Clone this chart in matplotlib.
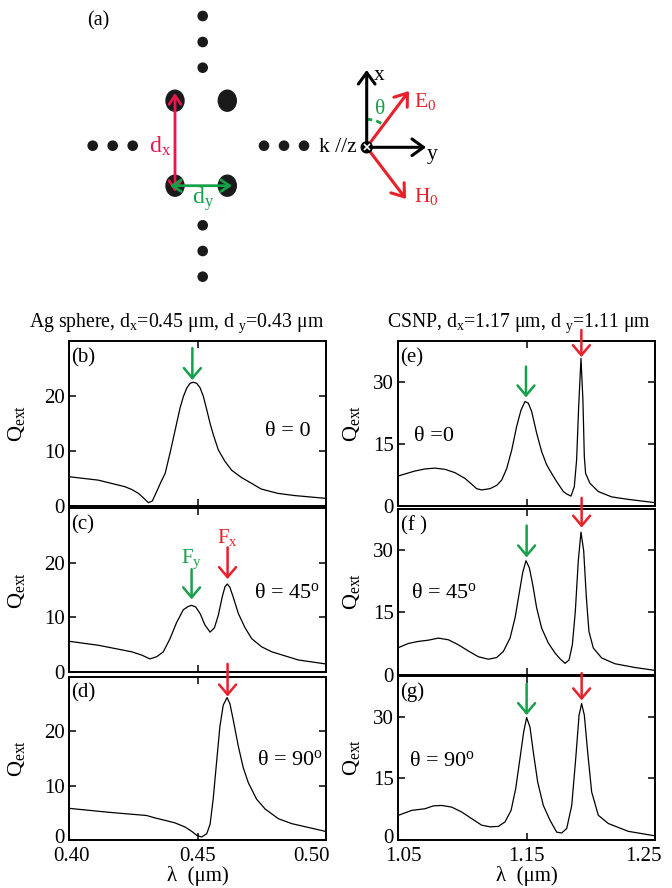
import matplotlib
matplotlib.use("Agg")
import matplotlib.pyplot as plt
from matplotlib.patches import Circle, Ellipse, Arc
from matplotlib.transforms import ScaledTranslation

plt.rcParams['font.family'] = ['Liberation Serif', 'DejaVu Serif']
plt.rcParams['mathtext.fontset'] = 'custom'
plt.rcParams['mathtext.rm'] = 'Liberation Serif'
plt.rcParams['mathtext.it'] = 'Liberation Serif:italic'

GREEN = '#15a04a'
RED = '#e8202a'

# ---- data ----
lam_b = [0.4004, 0.4114, 0.4218, 0.4244, 0.4270, 0.4289, 0.4309, 0.4324, 0.4341, 0.4358,
         0.4374, 0.4393, 0.4413, 0.4432, 0.4445, 0.4458, 0.4471, 0.4484, 0.4497, 0.4510,
         0.4523, 0.4536, 0.4549, 0.4562, 0.4581, 0.4607, 0.4633, 0.4672, 0.4711, 0.4747,
         0.4812, 0.4877, 0.4996]
q_b = [5.3, 4.7, 3.5, 3.0, 2.3, 1.5, 0.6, 0.9, 2.6, 4.4,
       5.9, 9.6, 13.8, 17.8, 19.9, 21.4, 22.3, 22.5, 22.3, 21.5,
       19.9, 17.5, 15.0, 12.9, 10.2, 8.1, 6.5, 5.15, 4.1, 3.1,
       2.3, 1.9, 1.4]

lam_c = [0.4004, 0.4114, 0.4244, 0.4283, 0.4315, 0.4341, 0.4367, 0.4393, 0.4419, 0.4445,
         0.4464, 0.4477, 0.4493, 0.4510, 0.4529, 0.4549, 0.4566, 0.4581, 0.4597, 0.4607,
         0.4616, 0.4626, 0.4639, 0.4659, 0.4685, 0.4711, 0.4750, 0.4789, 0.4893, 0.4996]
q_c = [5.6, 4.9, 3.7, 3.1, 2.4, 2.8, 3.7, 6.1, 9.1, 11.4,
       12.0, 12.2, 11.9, 10.7, 8.6, 7.3, 8.1, 10.4, 13.9, 15.6,
       16.1, 15.5, 13.7, 10.7, 8.1, 6.1, 4.6, 3.7, 2.2, 1.5]

lam_d = [0.4004, 0.4153, 0.4302, 0.4335, 0.4374, 0.4412, 0.4451, 0.4477, 0.4497, 0.4516,
         0.4536, 0.4549, 0.4561, 0.4574, 0.4587, 0.4600, 0.4615, 0.4626, 0.4639, 0.4659,
         0.4678, 0.4698, 0.4730, 0.4763, 0.4815, 0.4867, 0.4996]
q_d = [5.8, 5.1, 4.5, 4.05, 3.6, 3.15, 2.4, 1.6, 0.85, 0.55,
       1.15, 2.9, 7.5, 14.2, 20.8, 24.8, 26.2, 25.1, 22.1, 17.2,
       13.3, 10.5, 7.5, 5.7, 3.9, 3.0, 1.6]

lam_e = [1.0503, 1.0567, 1.0632, 1.0710, 1.0788, 1.0866, 1.0943, 1.1021, 1.1073, 1.1112,
         1.1151, 1.1216, 1.1268, 1.1307, 1.1346, 1.1385, 1.1423, 1.1457, 1.1488, 1.1514,
         1.1540, 1.1579, 1.1618, 1.1657, 1.1696, 1.1735, 1.1761, 1.1787, 1.1813, 1.1846,
         1.1872, 1.1890, 1.1906, 1.1924, 1.1939, 1.1950, 1.1960, 1.1994, 1.2059, 1.2163,
         1.2292, 1.2500]
q_e = [7.2, 7.8, 8.4, 8.9, 9.1, 8.8, 8.0, 6.6, 5.2, 4.1,
       3.8, 4.1, 4.9, 6.2, 9.0, 13.5, 19.2, 23.2, 25.3, 24.9,
       22.9, 17.6, 13.1, 9.9, 7.8, 5.8, 4.6, 3.4, 2.8, 2.3,
       4.6, 11.1, 24.1, 35.8, 25.7, 11.9, 7.8, 5.4, 3.4, 2.1,
       1.5, 0.7]

lam_f = [1.0503, 1.0580, 1.0658, 1.0736, 1.0814, 1.0892, 1.0969, 1.1047, 1.1125, 1.1203,
         1.1268, 1.1320, 1.1372, 1.1411, 1.1442, 1.1470, 1.1496, 1.1522, 1.1548, 1.1579,
         1.1618, 1.1670, 1.1722, 1.1761, 1.1800, 1.1831, 1.1857, 1.1880, 1.1903, 1.1924,
         1.1945, 1.1966, 1.1986, 1.2020, 1.2085, 1.2189, 1.2344, 1.2500]
q_f = [6.5, 7.5, 8.0, 8.3, 8.8, 8.4, 7.2, 5.7, 4.3, 3.7,
       4.1, 5.6, 8.8, 13.7, 19.4, 24.6, 27.5, 25.8, 21.8, 16.1,
       11.2, 7.6, 5.2, 3.8, 2.7, 3.5, 7.2, 15.3, 27.5, 34.4,
       29.9, 18.5, 10.4, 6.4, 4.0, 2.6, 1.7, 1.0]

lam_g = [1.0503, 1.0606, 1.0710, 1.0775, 1.0840, 1.0918, 1.0996, 1.1073, 1.1151, 1.1216,
         1.1281, 1.1333, 1.1380, 1.1416, 1.1449, 1.1478, 1.1501, 1.1527, 1.1553, 1.1587,
         1.1631, 1.1683, 1.1735, 1.1774, 1.1813, 1.1852, 1.1883, 1.1909, 1.1929, 1.1950,
         1.1976, 1.2007, 1.2059, 1.2137, 1.2292, 1.2500]
q_g = [6.0, 7.2, 7.6, 8.3, 8.4, 8.0, 6.8, 5.2, 3.6, 3.2,
       3.3, 4.4, 7.2, 12.5, 19.8, 26.3, 29.8, 27.5, 21.4, 14.1,
       8.4, 4.8, 1.9, 1.7, 2.8, 8.4, 19.8, 30.4, 33.2, 30.4,
       21.4, 11.7, 6.0, 4.0, 2.1, 1.0]

# arrows: (lambda, tail Q, tip Q, colour)
arr_b = [(0.448, 28.7, 22.9, GREEN)]
arr_c = [(0.4477, 18.8, 13.3, GREEN), (0.4617, 22.8, 17.0, RED)]
arr_d = [(0.4617, 32.4, 26.4, RED)]
arr_e = [(1.1496, 33.8, 26.3, GREEN), (1.1927, 42.7, 36.1, RED)]
arr_f = [(1.1501, 36.0, 28.3, GREEN), (1.1929, 42.7, 35.5, RED)]
arr_g = [(1.1501, 38.0, 30.4, GREEN), (1.1929, 40.6, 34.0, RED)]

fig = plt.figure(figsize=(6.72, 8.88), dpi=100)

# ---- (a) sketch, drawn in pixel coordinates ----
dg = fig.add_axes([0, 0, 1, 1])
dg.set_xlim(0, 672)
dg.set_ylim(888, 0)
dg.axis('off')

for (x, y) in [(202.7, 16), (202.7, 42), (202.7, 67.7), (202.7, 225.3), (202.7, 251), (202.7, 276.7),
               (92.7, 145.7), (112.7, 145.7), (132.7, 145.7), (264, 145.7), (284, 145.7), (304, 145.7)]:
    dg.add_patch(Circle((x, y), 4.6, color='#1a1a1a'))
for (x, y) in [(175, 100.7), (227.3, 100.7), (175, 185.7), (227.3, 185.7)]:
    dg.add_patch(Ellipse((x, y), 18, 21, color='#1a1a1a'))

dbl = dict(arrowstyle='<->,head_length=0.45,head_width=0.3', lw=2, mutation_scale=14, shrinkA=0, shrinkB=0)
dg.annotate('', xy=(175, 93), xytext=(175, 192), arrowprops=dict(color='#e8174a', **dbl))
dg.annotate('', xy=(170, 185.7), xytext=(232, 185.7), arrowprops=dict(color=GREEN, **dbl))
dg.text(160, 146, 'd$_\\mathrm{x}$', color='#e8174a', fontsize=17, ha='center', va='center')
dg.text(203, 199, 'd$_\\mathrm{y}$', color=GREEN, fontsize=17, ha='center', va='center')
dg.text(87, 21, '(a)', fontsize=14.5, ha='left', va='center')

ox, oy = 366.7, 147.3
ax_arrow = dict(arrowstyle='->,head_length=0.55,head_width=0.4', lw=2.2, mutation_scale=15, shrinkA=0, shrinkB=0)
dg.annotate('', xy=(ox, 70), xytext=(ox, oy), arrowprops=dict(color='k', **ax_arrow))
dg.annotate('', xy=(426, oy), xytext=(ox, oy), arrowprops=dict(color='k', **ax_arrow))
dg.annotate('', xy=(409, 91), xytext=(ox, oy), arrowprops=dict(color=RED, **ax_arrow))
dg.annotate('', xy=(406, 199), xytext=(ox, oy), arrowprops=dict(color=RED, **ax_arrow))
dg.add_patch(Arc((ox, oy), 56, 56, theta1=270, theta2=307, color=GREEN, lw=2, ls=(0, (2, 1.5))))
dg.add_patch(Circle((ox, oy), 5.5, color='k', zorder=5))
dg.plot([ox], [oy], marker='x', color='white', ms=5, mew=1.2, zorder=6)
dg.text(374, 76, 'x', fontsize=15.5, ha='left', va='center')
dg.text(427, 155, 'y', fontsize=15.5, ha='left', va='center')
dg.text(357, 148, 'k //z', fontsize=15.5, ha='right', va='center')
dg.text(414, 101, 'E$_0$', color=RED, fontsize=15.5, ha='left', va='center')
dg.text(414, 196, 'H$_0$', color=RED, fontsize=15.5, ha='left', va='center')
dg.text(380, 110, 'θ', color=GREEN, fontsize=15.5, ha='center', va='center')

# ---- spectra panels ----
W = 257 / 672
panels = [
    ([69 / 672, 0.4302, W, 0.1858], lam_b, q_b, arr_b, '(b)', 'θ = 0', (0.85, 0.45), 'L'),
    ([69 / 672, 0.2432, W, 0.1847], lam_c, q_c, arr_c, '(c)', 'θ = 45$^\\mathrm{o}$', (0.85, 0.48), 'L'),
    ([69 / 672, 0.0541, W, 0.1836], lam_d, q_d, arr_d, '(d)', 'θ = 90$^\\mathrm{o}$', (0.86, 0.49), 'L'),
    ([398 / 672, 0.4307, W, 0.1852], lam_e, q_e, arr_e, '(e)', 'θ =0', (0.14, 0.42), 'R'),
    ([398 / 672, 0.2404, W, 0.1864], lam_f, q_f, arr_f, '(f )', 'θ = 45$^\\mathrm{o}$', (0.18, 0.49), 'R'),
    ([398 / 672, 0.0541, W, 0.1850], lam_g, q_g, arr_g, '(g)', 'θ = 90$^\\mathrm{o}$', (0.17, 0.475), 'R'),
]


def nudge(label, dx, dy):
    label.set_transform(label.get_transform() + ScaledTranslation(dx / 100, dy / 100, fig.dpi_scale_trans))


for i, (rect, lam, q, arrows, tag, theta, tpos, side) in enumerate(panels):
    ax = fig.add_axes(rect)
    ax.plot(lam, q, color='k', lw=0.9)
    if side == 'L':
        ax.set_xlim(0.40, 0.50)
        ax.set_xticks([0.40, 0.45, 0.50])
        ax.set_xticklabels(['0.40', '0.45', '0.50'])
        ax.set_ylim(0, 30)
        ax.set_yticks([0, 10, 20])
        ax.yaxis.set_label_coords(-0.165, 0.4)
    else:
        ax.set_xlim(1.05, 1.25)
        ax.set_xticks([1.05, 1.15, 1.25])
        ax.set_xticklabels(['1.05', '1.15', '1.25'])
        ax.set_ylim(0, 40)
        ax.set_yticks([0, 15, 30])
        ax.yaxis.set_label_coords(-0.14, 0.4)
    ax.set_ylabel('Q$_\\mathrm{ext}$', fontsize=16)
    ax.tick_params(direction='in', top=True, right=True, length=5, width=1.1, labelsize=15, pad=3)
    ax.tick_params(axis='x', pad=5)
    for s in ax.spines.values():
        s.set_linewidth(1.4)
    if i in (2, 5):
        ax.set_xlabel('λ  (μm)', fontsize=15, labelpad=0)
        nudge(ax.get_yticklabels()[0], 0, 4)
        xl = ax.get_xticklabels()
        nudge(xl[0], 3 if side == 'L' else 5, 0)
        nudge(xl[-1], -14 if side == 'L' else -12, 0)
    else:
        ax.tick_params(labelbottom=False)
    ax.text(0.01, 0.9, tag, transform=ax.transAxes, fontsize=15, ha='left', va='center')
    ax.text(tpos[0], tpos[1], theta, transform=ax.transAxes, fontsize=16, ha='center', va='center')
    for (x, y0, y1, c) in arrows:
        ax.annotate('', xy=(x, y1), xytext=(x, y0), annotation_clip=False,
                    arrowprops=dict(arrowstyle='->,head_length=0.45,head_width=0.38', color=c,
                                    lw=1.8, mutation_scale=16, shrinkA=0, shrinkB=0))
    if tag == '(c)':
        ax.text(0.4477, 20.7, 'F$_\\mathrm{y}$', color=GREEN, fontsize=15, ha='center', va='center')
        ax.text(0.4617, 24.6, 'F$_\\mathrm{x}$', color=RED, fontsize=15, ha='center', va='center')

fig.text(177 / 672, 1 - 323 / 888, 'Ag sphere, d$_\\mathrm{x}$=0.45 μm, d $_\\mathrm{y}$=0.43 μm',
         fontsize=14.2, ha='center', va='center')
fig.text(519 / 672, 1 - 323 / 888, 'CSNP, d$_\\mathrm{x}$=1.17 μm, d $_\\mathrm{y}$=1.11 μm',
         fontsize=14.2, ha='center', va='center')

fig.savefig('out.png', dpi=100)
